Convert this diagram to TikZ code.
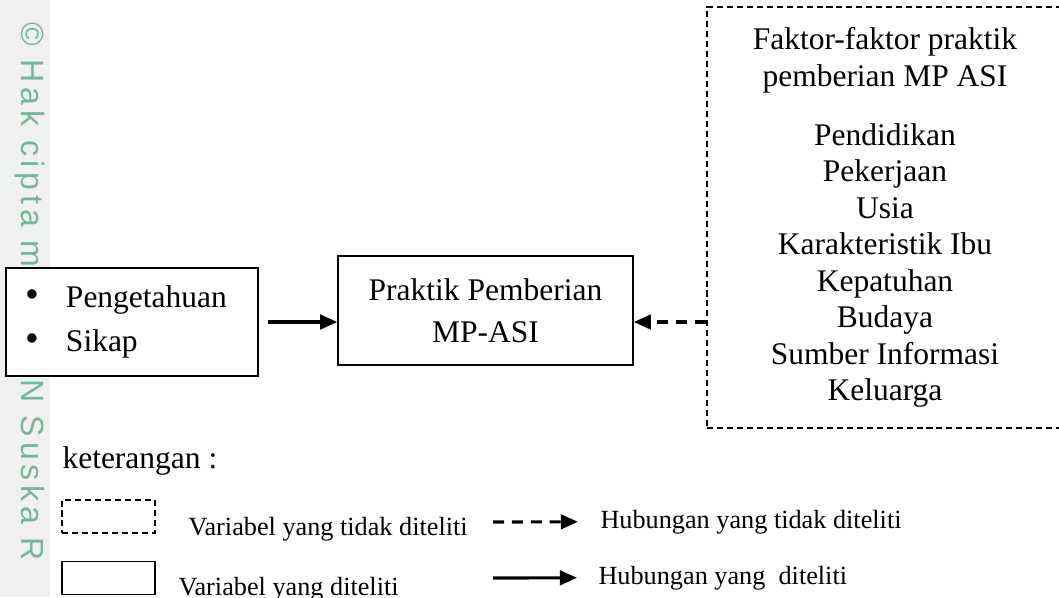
\documentclass[tikz,border=0pt]{standalone}
\usepackage{fontspec}
\setmainfont{Liberation Serif}
\newfontfamily\wmfont[LetterSpace=15]{Liberation Sans}
\usetikzlibrary{arrows.meta,positioning}
\definecolor{wmstrip}{RGB}{239,241,241}
\definecolor{wmtext}{RGB}{118,182,152}
\newcommand{\itembul}{{\fontsize{15}{13.9}\selectfont\textbullet}}

\begin{document}
\begin{tikzpicture}[
    x=0.381pt, y=-0.381pt,
    box/.style={draw, line width=0.6pt, fill=white, inner sep=0pt, align=center, font=\fontsize{12}{13.9}\selectfont},
    dashbox/.style={box, dash pattern=on 2.3pt off 1.5pt},
    keybox/.style={draw, line width=0.6pt, minimum width=35.4pt, minimum height=12.6pt, inner sep=0pt},
    keytext/.style={anchor=base west, inner sep=0pt, font=\fontsize{10}{12}\selectfont},
    arrow/.style={-{Triangle[length=6.5pt,width=5.5pt]}, line width=1.2pt},
    dasharrow/.style={arrow, dash pattern=on 4.2pt off 3pt}
]
\useasboundingbox (0,0) rectangle (1059,597);
\clip (0,0) rectangle (1059,597);

% Watermark strip on the left
\fill[wmstrip] (0,0) rectangle (50,597);
\node[rotate=-90, anchor=west, inner sep=0pt, text=wmtext, font=\wmfont\fontsize{12.2}{14}\selectfont] (hakcipta) at (30,22) {© Hak cipta milik UIN Suska R};

% Variables
\node[box, minimum width=96pt, minimum height=41.1pt, text width=80.8pt, align=left] (bebas) at (132,322) {\itembul\hspace{10pt}Pengetahuan\\[3.1pt]\itembul\hspace{10pt}Sikap};
\node[box, minimum width=112.4pt, minimum height=41.5pt] (praktik) at (485.5,310.5) {Praktik Pemberian\\[2.1pt]MP-ASI};
\node[dashbox, minimum width=135.6pt, minimum height=160.4pt] (faktor) at (885,217.5) {Faktor-faktor praktik\\pemberian MP ASI\\[8.5pt]Pendidikan\\Pekerjaan\\Usia\\Karakteristik Ibu\\Kepatuhan\\Budaya\\Sumber Informasi\\Keluarga};

% Relations
\draw[arrow, shorten <=3.4pt] (bebas.east) -- (bebas.east -| praktik.west);
\draw[dasharrow] (faktor.west |- bebas.east) -- (praktik.east |- bebas.east);

% Legend
\node[anchor=base west, inner sep=0pt, font=\fontsize{12}{14}\selectfont] (ket) at (62,468) {keterangan :};
\node[keybox, dash pattern=on 2.3pt off 1.5pt] (keytdk) at (108.5,516.5) {};
\node[keybox] (keyya) at (108.5,578) {};
\node[keytext] (vartdk) at (188,535) {Variabel yang tidak diteliti};
\node[keytext] (varya) at (178,595) {Variabel yang diteliti};
\node[keytext] (hubtdk) at (600,528) {Hubungan yang tidak diteliti};
\node[keytext] (hubya) at (598,584) {Hubungan yang \ diteliti};
\coordinate (tdkstart) at (493,522);
\coordinate (yastart) at (493,578);
\draw[dasharrow, shorten >=8.4pt] (tdkstart) -- (hubtdk.west);
\draw[arrow, shorten >=8pt] (yastart) -- (hubya.west);
\end{tikzpicture}
\end{document}
